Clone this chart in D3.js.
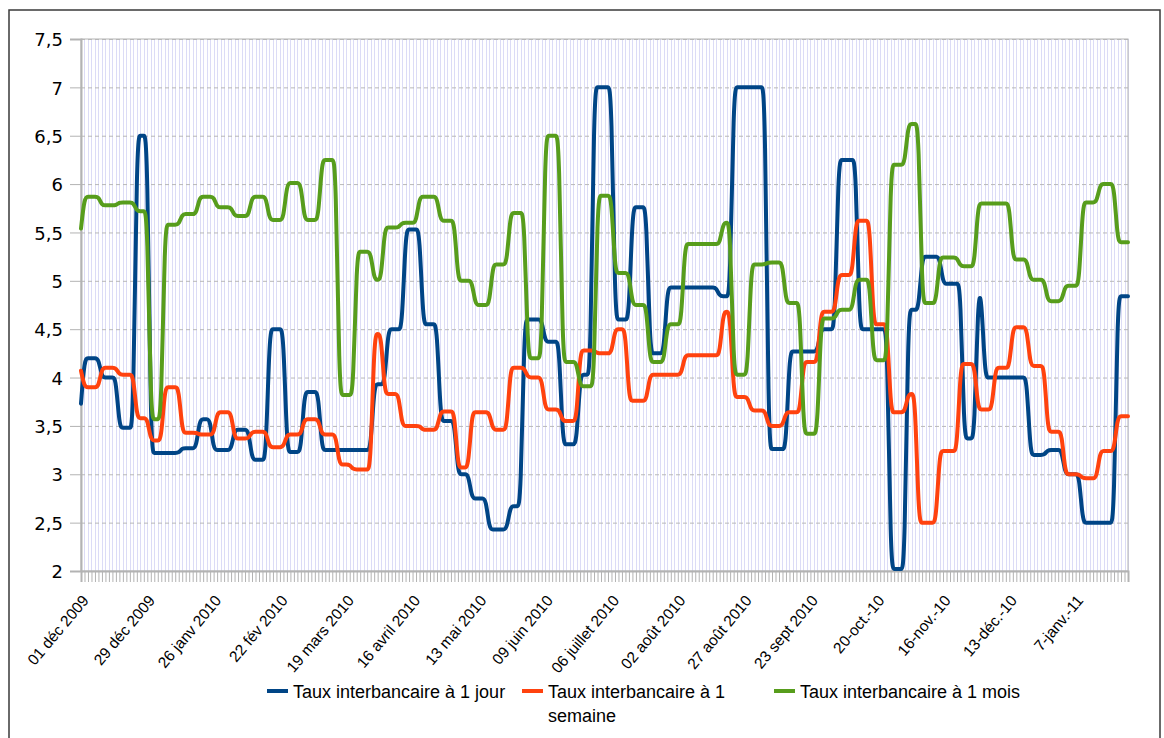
<!DOCTYPE html>
<html><head><meta charset="utf-8">
<script src="https://cdn.jsdelivr.net/npm/d3@7"></script>
<style>body{margin:0;background:#fff}svg{display:block}</style>
</head><body><svg id="c" width="1164" height="738"></svg>
<script>
// ---- DATA (business-day categories) ----
const categoryCount = 301;            // one category per business day
const tickEvery = 19;                 // a date label every 19 categories
const tickLabels = ["01 déc 2009","29 déc 2009","26 janv 2010","22 fév 2010","19 mars 2010",
  "16 avril 2010","13 mai 2010","09 juin 2010","06 juillet 2010","02 août 2010","27 août 2010",
  "23 sept 2010","20-oct.-10","16-nov.-10","13-déc.-10","7-janv.-11"];
const yTickValues = [2,2.5,3,3.5,4,4.5,5,5.5,6,6.5,7,7.5];
const seriesNames = ["Taux interbancaire à 1 jour","Taux interbancaire à 1 semaine","Taux interbancaire à 1 mois"];

// values as [rate, number of consecutive business days]
const tauxJour = [[3.73,1],[4.2,5],[4.0,5],[3.48,5],[6.5,4],[3.22,9],[3.27,5],[3.57,4],[3.25,6],[3.46,5],
  [3.15,5],[4.5,5],[3.23,5],[3.85,5],[3.25,15],[3.93,4],[4.5,5],[5.53,5],[4.55,5],[3.55,5],[3.0,4],
  [2.75,5],[2.43,6],[2.67,4],[4.6,6],[4.37,5],[3.31,5],[4.03,4],[7.0,6],[4.6,5],[5.76,5],[4.25,5],
  [4.93,15],[4.84,4],[7.0,10],[3.26,6],[4.27,9],[4.5,5],[6.25,6],[4.5,9],[2.02,5],[4.7,4],[5.25,6],
  [4.97,6],[3.37,4],[4.87,2],[4.0,13],[3.2,5],[3.25,5],[3.0,5],[2.5,10],[4.84,4]];
const tauxSemaine = [[4.07,1],[3.9,5],[4.1,5],[4.03,5],[3.58,4],[3.35,4],[3.9,5],[3.43,5],[3.41,5],[3.64,5],
  [3.37,5],[3.44,5],[3.28,5],[3.41,5],[3.57,5],[3.41,5],[3.1,4],[3.05,6],[4.45,3],[3.83,5],[3.5,6],
  [3.46,5],[3.65,5],[3.07,4],[3.64,6],[3.46,5],[4.1,5],[4.0,5],[3.67,5],[3.55,5],[4.28,5],[4.25,5],
  [4.5,4],[3.76,6],[4.03,10],[4.23,11],[4.68,3],[3.8,5],[3.66,5],[3.5,5],[3.64,5],[4.16,5],[4.68,5],
  [5.06,5],[5.62,5],[4.55,5],[3.64,5],[3.83,3],[2.5,6],[3.24,6],[4.14,5],[3.67,5],[4.1,5],[4.52,5],
  [4.12,5],[3.44,5],[3.0,5],[2.96,5],[3.24,5],[3.6,4]];
const tauxMois = [[5.54,1],[5.87,5],[5.78,5],[5.81,5],[5.72,4],[3.57,4],[5.58,5],[5.69,5],[5.87,5],[5.76,5],
  [5.67,5],[5.87,5],[5.63,5],[6.01,5],[5.63,5],[6.25,5],[3.82,5],[5.3,5],[5.01,3],[5.55,5],[5.6,5],
  [5.87,6],[5.62,5],[5.0,5],[4.75,5],[5.17,5],[5.7,5],[4.2,5],[6.5,5],[4.16,5],[3.91,5],[5.88,5],
  [5.08,5],[4.75,5],[4.16,5],[4.55,5],[5.38,11],[5.6,3],[4.03,5],[5.17,5],[5.19,5],[4.77,5],[3.42,5],
  [4.61,5],[4.7,5],[5.01,5],[4.18,5],[6.2,5],[6.62,4],[4.77,5],[5.24,6],[5.15,5],[5.8,10],[5.22,5],
  [5.01,5],[4.79,5],[4.95,5],[5.81,5],[6.0,5],[5.4,4]];
const seriesColors = ["#004586","#ff420e","#579d1c"];

// ---- CHART ----
const expand = runs => runs.flatMap(([v, n]) => Array(n).fill(v));
const series = [tauxJour, tauxSemaine, tauxMois].map(expand);
const categories = d3.range(categoryCount);

const L = 81, R = 1128, T = 39, B = 571;
const svg = d3.select("#c");

svg.append("rect").attr("x", 9).attr("y", 10).attr("width", 1151).attr("height", 760)
  .attr("fill", "#fff").attr("stroke", "#3a3a3a").attr("stroke-width", 1.5);

const x = d3.scalePoint().domain(categories).range([L, R]);
const y = d3.scaleLinear().domain([2, 7.5]).range([B, T]);

// vertical category grid
svg.append("g").selectAll("line").data(categories).join("line")
  .attr("x1", d => Math.round(x(d)) + 0.5).attr("x2", d => Math.round(x(d)) + 0.5)
  .attr("y1", T).attr("y2", B).attr("stroke", "#dcdcf6").attr("stroke-width", 1);

// horizontal dashed grid
svg.append("g").attr("transform", `translate(${L},0)`)
  .call(d3.axisLeft(y).tickValues(yTickValues).tickSize(-(R - L)).tickFormat(""))
  .call(g => g.select(".domain").remove())
  .call(g => g.selectAll("line").attr("stroke", "#b8b8b8").attr("stroke-dasharray", "4,3"));

// plot frame
svg.append("rect").attr("x", L).attr("y", T).attr("width", R - L).attr("height", B - T)
  .attr("fill", "none").attr("stroke", "#b3b3b3").attr("stroke-width", 1);

// y axis
svg.append("g").attr("transform", `translate(${L},0)`)
  .call(d3.axisLeft(y).tickValues(yTickValues).tickSize(11).tickPadding(7)
    .tickFormat(d => String(d).replace(".", ",")))
  .call(g => g.select(".domain").attr("stroke", "#b3b3b3").attr("stroke-width", 2))
  .call(g => g.selectAll(".tick line").attr("stroke", "#b3b3b3"))
  .call(g => g.selectAll("text").attr("font-family", "DejaVu Sans").attr("font-size", 18)
    .attr("fill", "#000").attr("dy", "0.37em"));

// x axis: minor ticks every category
svg.append("g").attr("transform", `translate(0,${B})`)
  .call(d3.axisBottom(x).tickValues(categories).tickSize(11).tickFormat(""))
  .call(g => g.select(".domain").attr("stroke", "#b3b3b3").attr("stroke-width", 2))
  .call(g => g.selectAll(".tick line").attr("stroke", "#b3b3b3"));

// x axis labels
const labelIdx = tickLabels.map((_, i) => i * tickEvery);
svg.append("g").attr("transform", `translate(0,${B})`)
  .call(d3.axisBottom(x).tickValues(labelIdx).tickSize(0)
    .tickFormat(d => tickLabels[d / tickEvery]))
  .call(g => g.select(".domain").remove())
  .call(g => g.selectAll("text").attr("font-family", "Liberation Sans").attr("font-size", 15.5)
    .attr("fill", "#000").attr("text-anchor", "end").attr("x", 8).attr("y", 30).attr("dy", 0)
    .attr("transform", "rotate(-50,8,30)"));

// series
const line = d3.line().x((d, i) => x(i)).y(d => y(d)).curve(d3.curveBasis);
svg.append("g").selectAll("path").data(series).join("path")
  .attr("d", line).attr("fill", "none")
  .attr("stroke", (d, i) => seriesColors[i]).attr("stroke-width", 4)
  .attr("stroke-linejoin", "round").attr("stroke-linecap", "round");

// legend
const legend = [
  {x: 267, lines: ["Taux interbancaire à 1 jour"]},
  {x: 522, lines: ["Taux interbancaire à 1", "semaine"]},
  {x: 774, lines: ["Taux interbancaire à 1 mois"]}
];
const lg = svg.append("g").attr("font-family", "Liberation Sans").attr("font-size", 18).attr("fill", "#000");
legend.forEach((it, i) => {
  lg.append("line").attr("x1", it.x).attr("x2", it.x + 21).attr("y1", 691).attr("y2", 691)
    .attr("stroke", seriesColors[i]).attr("stroke-width", 4);
  const t = lg.append("text").attr("x", it.x + 26).attr("y", 698);
  it.lines.forEach((s, k) => t.append("tspan").attr("x", it.x + 26).attr("dy", k ? 24 : 0).text(s));
});
</script></body></html>
